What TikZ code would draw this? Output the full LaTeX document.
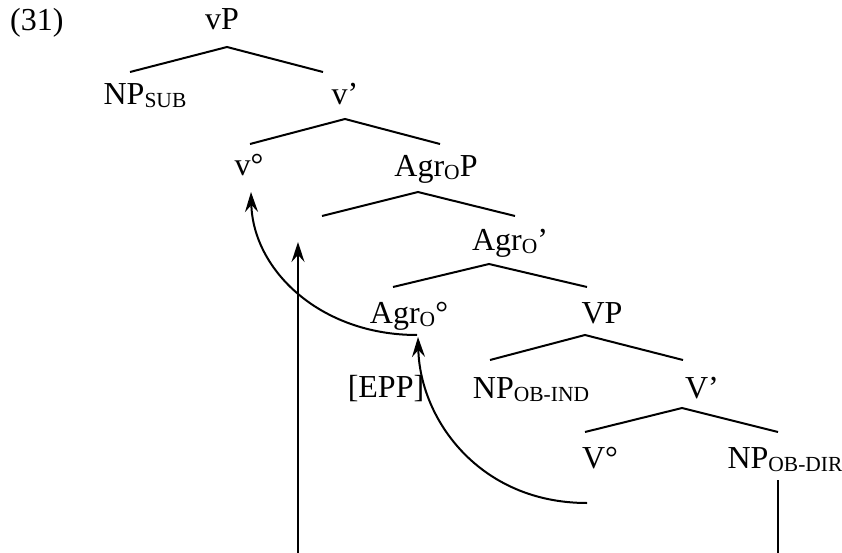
\documentclass[tikz,border=0pt]{standalone}
\usepackage{fontspec}
\setmainfont{Liberation Serif}
\usetikzlibrary{arrows.meta}
\newcommand{\sbs}[1]{\raisebox{-3pt}{\fontsize{21.5}{21.5}\selectfont #1}}
\begin{document}
\begin{tikzpicture}[x=1pt,y=-1pt,
  tx/.style={inner sep=0pt, anchor=base, font=\fontsize{32}{32}\selectfont},
  br/.style={line width=2pt},
  mv/.style={line width=2pt, -{Stealth[length=20pt,width=13pt,inset=7pt]}}]
\useasboundingbox (0,0) rectangle (842,553);
% labels
\node[tx, anchor=base west] (ex) at (10,31) {(31)};
\node[tx] (vP) at (222,30) {vP};
\node[tx] (npsub) at (145,105) {NP\sbs{SUB}};
\node[tx] (vbar) at (345,105) {v’};
\node[tx] (vhead) at (249,176) {v°};
\node[tx] (agrP) at (436,177) {Agr\sbs{O}P};
\node[tx] (agrbar) at (510,250) {Agr\sbs{O}’};
\node[tx] (agrhead) at (409,323) {Agr\sbs{O}°};
\node[tx] (VP) at (602,323) {VP};
\node[tx] (epp) at (386,397) {[EPP]};
\node[tx] (npind) at (531,398) {NP\sbs{OB-IND}};
\node[tx] (Vbar) at (702,398) {V’};
\node[tx] (Vhead) at (600,468) {V°};
\node[tx] (npdir) at (785,468) {NP\sbs{OB-DIR}};
% branch points
\coordinate (a1) at (227,47);  \coordinate (l1) at (130,72);  \coordinate (r1) at (323,72);
\coordinate (a2) at (345,119); \coordinate (l2) at (250,144); \coordinate (r2) at (440,144);
\coordinate (a3) at (418,192); \coordinate (l3) at (322,216); \coordinate (r3) at (515,216);
\coordinate (a4) at (489,264); \coordinate (l4) at (393,287); \coordinate (r4) at (587,287);
\coordinate (a5) at (585,335); \coordinate (l5) at (490,360); \coordinate (r5) at (683,360);
\coordinate (a6) at (682,408); \coordinate (l6) at (585,432); \coordinate (r6) at (778,432);
\draw[br] (l1) -- (a1) -- (r1);
\draw[br] (l2) -- (a2) -- (r2);
\draw[br] (l3) -- (a3) -- (r3);
\draw[br] (l4) -- (a4) -- (r4);
\draw[br] (l5) -- (a5) -- (r5);
\draw[br] (l6) -- (a6) -- (r6);
% vertical lines
\coordinate (dirtop) at (778,480); \coordinate (dirbot) at (778,553);
\draw[br] (dirtop) -- (dirbot);
\coordinate (subbot) at (298,553); \coordinate (subtop) at (298,242);
\draw[mv] (subbot) -- (subtop);
% movement arrows
\coordinate (m1s) at (587,503); \coordinate (m1e) at (418,337);
\draw[mv] (m1s) .. controls (480,503) and (420,420) .. (m1e);
\coordinate (m2s) at (417,335); \coordinate (m2e) at (251,192);
\draw[mv] (m2s) .. controls (320,335) and (253,270) .. (m2e);
\end{tikzpicture}
\end{document}
